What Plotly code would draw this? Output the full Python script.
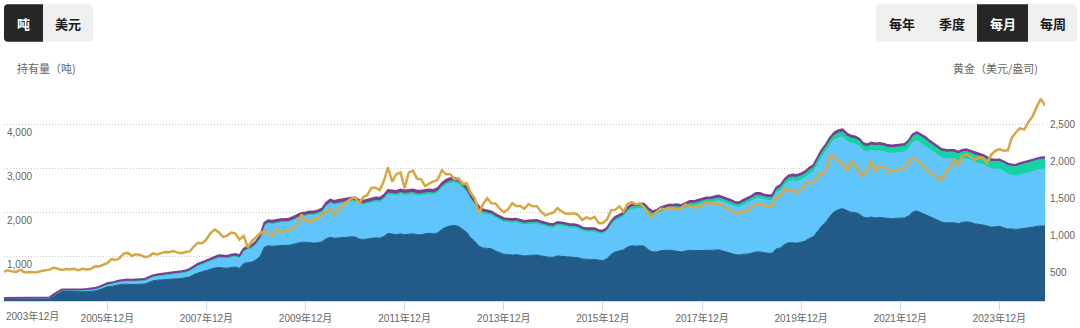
import plotly.graph_objects as go
import pandas as pd

# ---------------- data (tonnes / USD per oz), monthly from 2003-11 ----------------
START_MONTH = "2003-11-01"

north_america = {
    2003: [37, 38],
    2004: [38, 39, 41, 44, 42, 40, 40, 41, 42, 44, 110, 170],
    2005: [215, 215, 210, 210, 205, 210, 212, 215, 225, 250, 290, 320],
    2006: [330, 360, 370, 380, 385, 375, 375, 378, 385, 420, 455, 470],
    2007: [480, 490, 495, 500, 505, 510, 520, 545, 600, 640, 665, 690],
    2008: [720, 750, 760, 750, 740, 760, 770, 740, 850, 870, 880, 930],
    2009: [1010, 1220, 1250, 1240, 1250, 1260, 1260, 1260, 1280, 1300, 1330, 1330],
    2010: [1320, 1310, 1320, 1340, 1410, 1440, 1420, 1430, 1440, 1450, 1450, 1450],
    2011: [1400, 1390, 1400, 1420, 1430, 1420, 1460, 1530, 1510, 1500, 1520, 1500],
    2012: [1510, 1520, 1500, 1500, 1520, 1530, 1520, 1540, 1620, 1670, 1700, 1710],
    2013: [1690, 1620, 1560, 1430, 1350, 1240, 1200, 1190, 1180, 1130, 1090, 1060],
    2014: [1050, 1040, 1050, 1040, 1020, 1030, 1030, 1040, 1020, 1000, 990, 990],
    2015: [1020, 1010, 1000, 990, 990, 980, 950, 940, 940, 940, 920, 910],
    2016: [960, 1060, 1110, 1140, 1160, 1220, 1250, 1240, 1250, 1240, 1160, 1110],
    2017: [1110, 1140, 1150, 1150, 1140, 1130, 1110, 1130, 1150, 1140, 1140, 1150],
    2018: [1150, 1140, 1150, 1160, 1130, 1110, 1080, 1050, 1040, 1060, 1060, 1080],
    2019: [1110, 1110, 1090, 1080, 1080, 1180, 1200, 1280, 1320, 1320, 1310, 1330],
    2020: [1360, 1420, 1460, 1580, 1700, 1790, 1920, 2020, 2070, 2090, 2040, 2010],
    2021: [2000, 1970, 1900, 1880, 1900, 1880, 1890, 1880, 1860, 1860, 1870, 1880],
    2022: [1880, 1930, 2010, 2040, 2000, 1970, 1920, 1880, 1830, 1790, 1770, 1770],
    2023: [1770, 1750, 1780, 1790, 1780, 1750, 1740, 1720, 1700, 1670, 1680, 1690],
    2024: [1660, 1630, 1630, 1620, 1630, 1640, 1660, 1670, 1690, 1700, 1700],
}

europe = {
    2003: [24, 25],
    2004: [25, 25, 25, 26, 26, 26, 26, 27, 27, 27, 27, 27],
    2005: [28, 30, 32, 33, 35, 37, 40, 42, 45, 48, 52, 56],
    2006: [60, 62, 65, 70, 75, 75, 76, 78, 80, 85, 90, 95],
    2007: [100, 105, 110, 115, 120, 125, 130, 140, 150, 160, 170, 180],
    2008: [190, 205, 220, 225, 225, 230, 235, 235, 270, 300, 320, 350],
    2009: [400, 480, 500, 500, 510, 515, 520, 525, 540, 560, 580, 590],
    2010: [620, 630, 640, 660, 720, 760, 750, 760, 770, 780, 790, 790],
    2011: [780, 780, 790, 800, 810, 810, 830, 870, 880, 880, 890, 890],
    2012: [890, 890, 880, 880, 880, 880, 880, 900, 930, 950, 960, 960],
    2013: [950, 930, 900, 850, 820, 790, 770, 760, 750, 740, 730, 720],
    2014: [720, 720, 720, 710, 700, 700, 700, 700, 690, 680, 670, 660],
    2015: [680, 680, 670, 660, 660, 650, 630, 620, 620, 620, 600, 600],
    2016: [610, 660, 700, 720, 740, 800, 830, 840, 850, 850, 830, 820],
    2017: [850, 880, 900, 920, 930, 950, 950, 980, 1000, 1010, 1030, 1050],
    2018: [1080, 1090, 1100, 1110, 1110, 1100, 1090, 1080, 1080, 1110, 1150, 1180],
    2019: [1210, 1210, 1200, 1190, 1190, 1260, 1290, 1340, 1380, 1400, 1400, 1410],
    2020: [1430, 1450, 1460, 1520, 1560, 1590, 1610, 1620, 1620, 1620, 1580, 1560],
    2021: [1550, 1530, 1500, 1490, 1510, 1510, 1510, 1500, 1490, 1480, 1480, 1490],
    2022: [1490, 1520, 1570, 1590, 1570, 1550, 1520, 1490, 1470, 1450, 1450, 1450],
    2023: [1440, 1420, 1430, 1430, 1410, 1390, 1380, 1370, 1340, 1320, 1300, 1290],
    2024: [1270, 1240, 1220, 1210, 1220, 1230, 1240, 1260, 1270, 1280, 1290],
}

asia = {
    2003: [0, 0],
    2004: [0, 0, 0, 0, 0, 0, 0, 0, 0, 0, 0, 0],
    2005: [0, 0, 0, 0, 0, 0, 0, 0, 0, 0, 0, 0],
    2006: [0, 0, 0, 0, 0, 0, 0, 0, 1, 1, 1, 1],
    2007: [1, 1, 1, 2, 2, 2, 3, 3, 4, 4, 5, 5],
    2008: [6, 7, 8, 8, 9, 9, 10, 10, 11, 12, 12, 13],
    2009: [14, 15, 16, 16, 17, 17, 18, 18, 19, 20, 21, 22],
    2010: [23, 24, 25, 25, 26, 27, 27, 28, 29, 30, 31, 32],
    2011: [33, 34, 35, 35, 36, 37, 38, 40, 41, 41, 42, 42],
    2012: [42, 43, 43, 43, 44, 44, 44, 45, 46, 47, 47, 48],
    2013: [48, 48, 47, 46, 45, 44, 43, 42, 42, 41, 41, 40],
    2014: [40, 40, 40, 40, 40, 40, 40, 40, 39, 39, 39, 39],
    2015: [39, 39, 39, 38, 38, 38, 37, 37, 37, 37, 36, 36],
    2016: [37, 40, 42, 44, 45, 48, 50, 51, 52, 52, 51, 50],
    2017: [50, 51, 52, 53, 54, 55, 55, 56, 58, 58, 59, 60],
    2018: [60, 61, 62, 62, 62, 62, 62, 61, 62, 63, 64, 66],
    2019: [68, 69, 69, 69, 70, 73, 75, 80, 84, 86, 87, 88],
    2020: [90, 94, 97, 100, 103, 105, 108, 110, 112, 113, 114, 115],
    2021: [117, 118, 119, 120, 121, 122, 123, 124, 125, 126, 127, 128],
    2022: [130, 133, 137, 140, 142, 143, 144, 146, 148, 150, 152, 155],
    2023: [158, 160, 163, 165, 166, 167, 168, 169, 170, 172, 175, 178],
    2024: [190, 195, 200, 215, 225, 230, 225, 225, 225, 230, 225],
}

other = {
    2003: [6, 6],
    2004: [6, 6, 6, 7, 7, 7, 7, 7, 8, 8, 12, 16],
    2005: [18, 18, 19, 19, 20, 20, 21, 21, 22, 23, 24, 25],
    2006: [26, 27, 27, 28, 28, 28, 29, 29, 30, 31, 32, 33],
    2007: [34, 34, 35, 35, 36, 36, 37, 38, 39, 40, 41, 42],
    2008: [43, 45, 46, 46, 46, 47, 47, 47, 50, 52, 53, 54],
    2009: [56, 58, 59, 59, 59, 60, 60, 60, 61, 61, 62, 62],
    2010: [62, 62, 62, 63, 64, 65, 65, 65, 66, 66, 67, 67],
    2011: [67, 67, 68, 68, 68, 68, 69, 70, 70, 70, 70, 70],
    2012: [70, 70, 70, 70, 70, 70, 70, 70, 71, 71, 71, 71],
    2013: [70, 69, 67, 65, 62, 60, 58, 57, 56, 55, 54, 53],
    2014: [53, 53, 53, 52, 52, 52, 52, 52, 51, 51, 50, 50],
    2015: [50, 50, 49, 49, 49, 49, 48, 48, 48, 48, 47, 47],
    2016: [48, 49, 50, 51, 51, 52, 52, 52, 52, 52, 52, 51],
    2017: [51, 51, 52, 52, 52, 52, 52, 52, 52, 52, 52, 52],
    2018: [52, 52, 52, 52, 52, 52, 52, 51, 51, 52, 52, 52],
    2019: [53, 53, 53, 52, 52, 53, 54, 55, 56, 56, 56, 56],
    2020: [57, 57, 58, 59, 60, 60, 61, 61, 61, 60, 59, 58],
    2021: [57, 56, 55, 54, 54, 53, 53, 52, 52, 51, 51, 51],
    2022: [51, 51, 51, 51, 51, 50, 50, 49, 49, 48, 48, 47],
    2023: [47, 46, 46, 46, 45, 45, 44, 44, 43, 43, 42, 42],
    2024: [41, 41, 40, 40, 40, 39, 39, 39, 38, 38, 38],
}

gold_price = {
    2003: [398, 416],
    2004: [399, 395, 424, 388, 393, 395, 391, 407, 416, 426, 453, 435],
    2005: [422, 435, 428, 436, 418, 437, 429, 433, 473, 470, 496, 513],
    2006: [569, 556, 582, 644, 653, 614, 633, 624, 599, 604, 646, 632],
    2007: [650, 665, 662, 677, 660, 650, 665, 673, 743, 789, 783, 836],
    2008: [923, 971, 934, 871, 885, 930, 918, 833, 884, 730, 814, 870],
    2009: [919, 952, 917, 884, 975, 935, 955, 949, 996, 1040, 1175, 1088],
    2010: [1078, 1109, 1116, 1180, 1208, 1244, 1169, 1246, 1307, 1346, 1386, 1406],
    2011: [1328, 1411, 1439, 1536, 1536, 1506, 1628, 1813, 1620, 1722, 1746, 1531],
    2012: [1744, 1770, 1662, 1651, 1558, 1598, 1622, 1649, 1776, 1720, 1721, 1657],
    2013: [1664, 1588, 1598, 1469, 1394, 1192, 1314, 1395, 1326, 1324, 1253, 1205],
    2014: [1244, 1326, 1291, 1289, 1251, 1315, 1285, 1286, 1216, 1164, 1182, 1199],
    2015: [1260, 1214, 1187, 1180, 1191, 1171, 1098, 1135, 1115, 1142, 1057, 1060],
    2016: [1111, 1234, 1237, 1286, 1215, 1320, 1343, 1310, 1322, 1272, 1178, 1146],
    2017: [1212, 1255, 1245, 1266, 1267, 1243, 1265, 1311, 1283, 1271, 1275, 1297],
    2018: [1345, 1317, 1325, 1316, 1303, 1251, 1224, 1201, 1187, 1215, 1222, 1279],
    2019: [1321, 1320, 1292, 1284, 1295, 1409, 1420, 1523, 1485, 1511, 1464, 1515],
    2020: [1589, 1610, 1608, 1702, 1715, 1768, 1971, 1968, 1886, 1879, 1763, 1888],
    2021: [1864, 1743, 1691, 1770, 1900, 1763, 1825, 1819, 1743, 1770, 1774, 1806],
    2022: [1796, 1900, 1942, 1912, 1849, 1818, 1753, 1712, 1672, 1640, 1747, 1813],
    2023: [1928, 1836, 1969, 1991, 1962, 1912, 1952, 1942, 1871, 1984, 2038, 2062],
    2024: [2040, 2045, 2214, 2291, 2347, 2327, 2426, 2504, 2635, 2744, 2651],
}

x_tick_dates = ["2003-12-01", "2005-12-01", "2007-12-01", "2009-12-01", "2011-12-01",
                "2013-12-01", "2015-12-01", "2017-12-01", "2019-12-01", "2021-12-01",
                "2023-12-01"]
x_tick_labels = ["2003年12月", "2005年12月", "2007年12月", "2009年12月", "2011年12月",
                 "2013年12月", "2015年12月", "2017年12月", "2019年12月", "2021年12月",
                 "2023年12月"]
left_ticks = [1000, 2000, 3000, 4000, 5000]
left_labels = ["1,000", "2,000", "3,000", "4,000", ""]
right_ticks = [500, 1000, 1500, 2000, 2500]
right_labels = ["500", "1,000", "1,500", "2,000", "2,500"]


def flat(d):
    out = []
    for y in sorted(d):
        out += d[y]
    return out


na_v, eu_v, as_v, ot_v, gold_v = map(flat, [north_america, europe, asia, other, gold_price])
dates = pd.date_range(START_MONTH, periods=len(gold_v), freq="MS")

# ---------------- figure ----------------
W, H = 1080, 328
ML, MR, MT, MB = 4, 35, 80, 23
PW, PH = W - ML - MR, H - MT - MB

NUM_FONT = "Liberation Sans, Arial, Noto Sans CJK SC, sans-serif"
CJK_FONT = "Noto Sans CJK SC, Liberation Sans, sans-serif"

fig = go.Figure()
series = [
    ("北美", na_v, "#225a88", 1),
    ("欧洲", eu_v, "#60c5fb", 1),
    ("亚洲", as_v, "#14d2a2", 1),
    ("其他", ot_v, "#7a3f8e", 2),
]
for name, vals, col, lw in series:
    fig.add_trace(go.Scatter(
        x=dates, y=vals, name=name, mode="lines", stackgroup="h",
        line=dict(color=col, width=lw), fillcolor=col, yaxis="y",
        hoverinfo="skip",
    ))
fig.add_trace(go.Scatter(
    x=dates, y=gold_v, name="黄金", mode="lines", yaxis="y2",
    line=dict(color="#d8a745", width=2.5), hoverinfo="skip",
))

ticktext = [""] + x_tick_labels[1:]


def px(xp):
    return (xp - ML) / PW


def py(yp):
    return (MT + PH - yp) / PH


def rrect(x0, y0, x1, y1, r, corners=(1, 1, 1, 1)):
    tl, tr, br, bl = [r * c for c in corners]

    def P(a, b):
        return f"{px(a):.5f},{py(b):.5f}"
    s = f"M {P(x0 + tl, y0)} L {P(x1 - tr, y0)} Q {P(x1, y0)} {P(x1, y0 + tr)} "
    s += f"L {P(x1, y1 - br)} Q {P(x1, y1)} {P(x1 - br, y1)} "
    s += f"L {P(x0 + bl, y1)} Q {P(x0, y1)} {P(x0, y1 - bl)} "
    s += f"L {P(x0, y0 + tl)} Q {P(x0, y0)} {P(x0 + tl, y0)} Z"
    return s


shapes = [
    dict(type="path", xref="paper", yref="paper", path=rrect(4, 3, 93, 41, 4),
         fillcolor="#f0f0f0", line=dict(width=0), layer="above"),
    dict(type="path", xref="paper", yref="paper", path=rrect(4, 3, 43, 41, 4, (1, 0, 0, 1)),
         fillcolor="#262626", line=dict(width=0), layer="above"),
    dict(type="path", xref="paper", yref="paper", path=rrect(876, 3, 1077, 41, 4),
         fillcolor="#f0f0f0", line=dict(width=0), layer="above"),
    dict(type="path", xref="paper", yref="paper", path=rrect(977, 3, 1028, 41, 0),
         fillcolor="#262626", line=dict(width=0), layer="above"),
]

annotations = []


def text(xp, yp, t, size, color, anchor="center", bold=False, family=CJK_FONT):
    annotations.append(dict(
        x=px(xp), y=py(yp), xref="paper", yref="paper", text=f"<b>{t}</b>" if bold else t,
        showarrow=False, xanchor=anchor, yanchor="middle",
        font=dict(size=size, color=color, family=family),
    ))


text(23.5, 22, "吨", 13, "#ffffff", bold=True)
text(68, 22, "美元", 13, "#1a1a1a", bold=True)
text(902, 22, "每年", 13, "#1a1a1a", bold=True)
text(952, 22, "季度", 13, "#1a1a1a", bold=True)
text(1003, 22, "每月", 13, "#ffffff", bold=True)
text(1053, 22, "每周", 13, "#1a1a1a", bold=True)
text(15, 68, "持有量（吨)", 11, "#666666", anchor="left")
text(1040, 68, "黄金（美元/盎司)", 11, "#666666", anchor="right")
text(4, 320, x_tick_labels[0], 10, "#666666", anchor="left", family=NUM_FONT)

fig.update_layout(
    width=W, height=H,
    margin=dict(l=ML, r=MR, t=MT, b=MB, pad=0),
    paper_bgcolor="#ffffff", plot_bgcolor="#ffffff",
    showlegend=False, hovermode=False,
    shapes=shapes, annotations=annotations,
    xaxis=dict(
        type="date", range=[dates[0], dates[-1]],
        tickmode="array", tickvals=x_tick_dates, ticktext=ticktext,
        ticks="outside", ticklen=8, tickcolor="#ccd6eb", tickwidth=1,
        showline=True, linecolor="#ccd6eb", linewidth=1,
        showgrid=False, zeroline=False,
        tickfont=dict(size=10, color="#666666", family=NUM_FONT),
        fixedrange=True,
    ),
    yaxis=dict(
        range=[0, 5000], tickmode="array", tickvals=left_ticks, ticktext=left_labels,
        ticklabelposition="inside", ticklabelshift=8,
        showgrid=True, gridcolor="#c8c8c8", griddash="1px,2px", gridwidth=1,
        zeroline=False, showline=False, ticks="",
        tickfont=dict(size=10, color="#666666", family=NUM_FONT),
        fixedrange=True,
    ),
    yaxis2=dict(
        overlaying="y", side="right", range=[0, 3000],
        tickmode="array", tickvals=right_ticks, ticktext=right_labels,
        ticklabelshift=8, ticklabelstandoff=4,
        showgrid=False, zeroline=False, showline=False, ticks="",
        tickfont=dict(size=10, color="#666666", family=NUM_FONT),
        fixedrange=True,
    ),
)

fig.write_html("out.html")
